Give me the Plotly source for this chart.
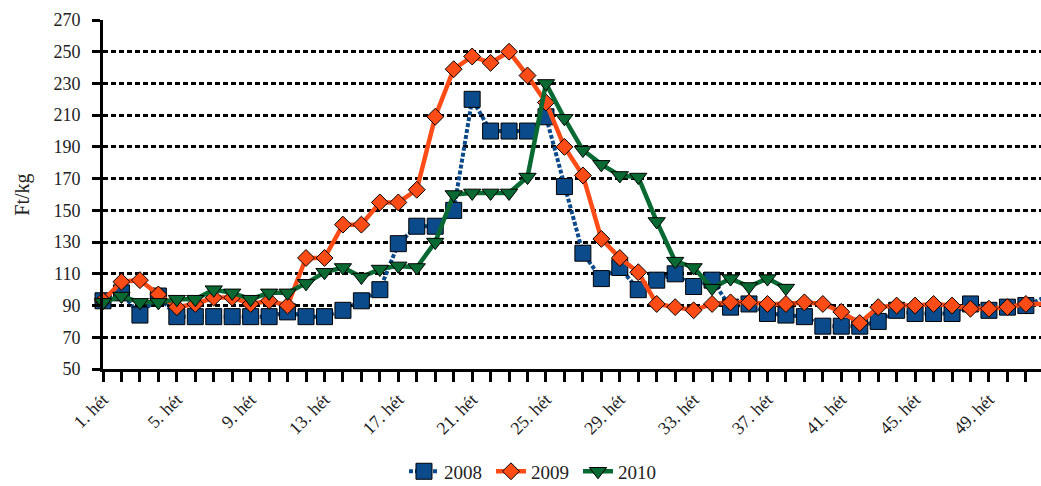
import plotly.graph_objects as go

weeks = list(range(1, 53))
tick_weeks = list(range(1, 53, 4))
tick_labels = [f"{w}. hét" for w in tick_weeks]

v2008 = [93, 98, 84, 96, 83, 83, 83, 83, 83, 83, 86, 83, 83, 87, 93, 100, 129, 140, 140, 150,
         220, 200, 200, 200, 209, 165, 123, 107, 114, 100, 106, 110, 102, 106, 89, 91, 85, 84, 83, 77,
         77, 77, 80, 87, 85, 85, 85, 91, 87, 89, 90, 95]
v2009 = [93, 105, 106, 97, 89, 91, 95, 95, 91, 93, 90, 120, 120, 141, 141, 155, 155, 163, 209, 239,
         247, 243, 250, 235, 218, 190, 172, 132, 120, 111, 91, 89, 87, 91, 92, 92, 91, 91, 92, 91,
         86, 79, 89, 90, 90, 91, 90, 88, 88, 89, 91, 91]
v2010 = [92, 96, 92, 92, 94, 94, 100, 98, 94, 98, 98, 104, 111, 114, 108, 113, 115, 114, 130, 160,
         161, 161, 161, 171, 230, 208, 188, 179, 172, 171, 143, 118, 114, 101, 107, 102, 107, 101]

names = ["2008", "2009", "2010"]
colors = ["#0B4B8B", "#FF4C17", "#086A32"]

FONT = "Liberation Serif"

fig = go.Figure()
fig.add_trace(go.Scatter(
    x=weeks, y=v2008, name=names[0], mode="lines+markers", cliponaxis=False,
    line=dict(color=colors[0], width=4, dash="4px,2px"),
    marker=dict(symbol="square", size=16, color=colors[0], line=dict(color="black", width=1)),
))
fig.add_trace(go.Scatter(
    x=weeks, y=v2009, name=names[1], mode="lines+markers", cliponaxis=False,
    line=dict(color=colors[1], width=4.5),
    marker=dict(symbol="diamond", size=13, color=colors[1], line=dict(color="black", width=1)),
))
fig.add_trace(go.Scatter(
    x=weeks[:len(v2010)], y=v2010, name=names[2], mode="lines+markers", cliponaxis=False,
    line=dict(color=colors[2], width=4.5),
    marker=dict(symbol="triangle-down", size=15, color=colors[2], line=dict(color="black", width=1)),
))

fig.update_layout(
    width=1041, height=486,
    margin=dict(l=103, r=0, t=20, b=117),
    paper_bgcolor="white", plot_bgcolor="white",
    font=dict(family=FONT, size=18, color="#222222"),
    showlegend=True,
    legend=dict(orientation="h", x=0.46, xanchor="center", yref="container", y=0.03, yanchor="middle",
                font=dict(family=FONT, size=19, color="#222222"),
                entrywidth=42, entrywidthmode="pixels",
                bgcolor="rgba(0,0,0,0)"),
    xaxis=dict(
        range=[1, 51.82], tickmode="array", tickvals=tick_weeks, ticktext=tick_labels,
        tickangle=-45, ticks="outside", ticklen=10, tickwidth=3, tickcolor="black",
        showline=True, linecolor="black", linewidth=3, showgrid=False, zeroline=False,
        tickfont=dict(family=FONT, size=18, color="#222222"),
        minor=dict(dtick=1, tick0=1, ticks="outside", ticklen=10, tickwidth=3, tickcolor="black", showgrid=False),
    ),
    yaxis=dict(
        range=[50, 270], dtick=20, tick0=50, ticks="outside", ticklen=8, tickwidth=3, tickcolor="black",
        showline=True, linecolor="black", linewidth=3, zeroline=False,
        showgrid=True, gridcolor="black", gridwidth=3, griddash="5px,3px",
        ticklabelstandoff=8,
        tickfont=dict(family=FONT, size=18, color="#222222"),
        title=dict(text="Ft/kg", font=dict(family=FONT, size=20, color="#222222"), standoff=19),
    ),
)

fig.write_html("out.html", config={"displayModeBar": False},
               post_script="document.body.style.margin='0px';document.body.style.overflow='hidden';")
